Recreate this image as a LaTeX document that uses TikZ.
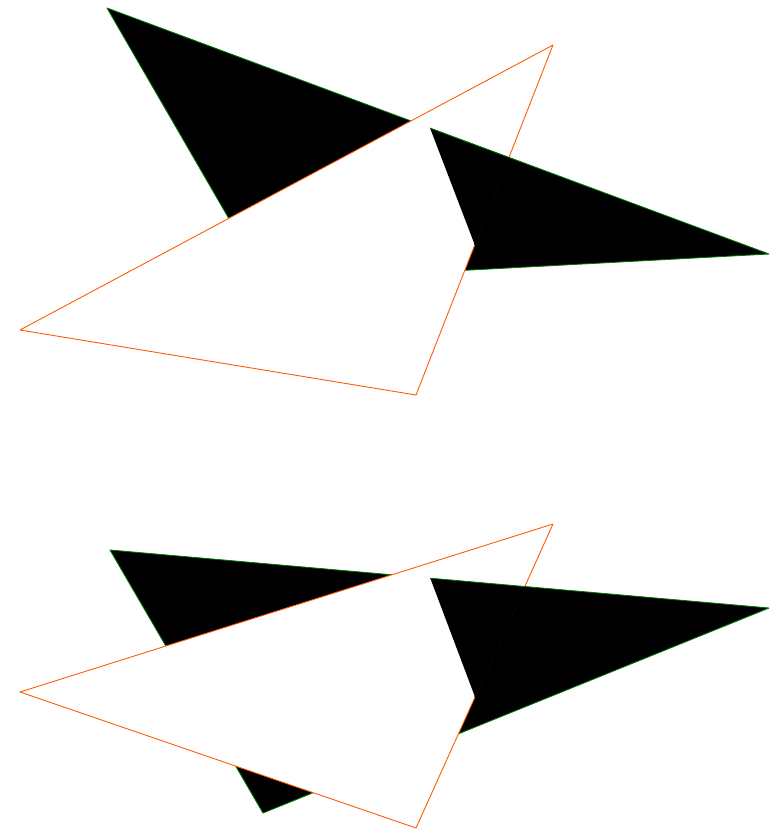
\documentclass[tikz,border=0pt]{standalone}
\usetikzlibrary{calc}
\begin{document}
\begin{tikzpicture}[x=0.02cm, y=-0.02cm,
		dark/.style={fill=black, draw=green!45!black, line width=0.5pt, line join=round},
		pale/.style={fill=white, draw=orange!70!red, line width=0.5pt, line join=round}]
		
		% ==========================================
		% FRAME
		% ==========================================
		\useasboundingbox (0,0) rectangle (781,833);
		
		% ==========================================
		% UPPER PAIR
		% ==========================================
		\coordinate (ta) at (107,8);
		\coordinate (tb) at (769,254);
		\coordinate (tc) at (265,281);
		\coordinate (ua) at (20,330);
		\coordinate (ub) at (553,45);
		\coordinate (uc) at (416,395);
		
		\filldraw[dark] (ta) -- (tb) -- (tc) -- cycle;
		\filldraw[pale] (ua) -- (ub) -- (uc) -- cycle;
		
		% the dark triangle pierces the pale one here
		\coordinate (tp) at ($(ta)!0.488!(tb)$);
		\coordinate (tq) at (intersection of ta--tb and ub--uc);
		\coordinate (tr) at ($(ub)!0.571!(uc)$);
		\fill[black] (tp) -- (tq) -- (tr) -- cycle;
		\draw[black, line width=0.8pt] (tq) -- (tr);
		\draw[green!45!black, line width=0.5pt] (tp) -- (tq);
		
		% ==========================================
		% LOWER PAIR
		% ==========================================
		\coordinate (ba) at (110,550);
		\coordinate (bb) at (769,608);
		\coordinate (bc) at (263,813);
		\coordinate (va) at (20,692);
		\coordinate (vb) at (553,524);
		\coordinate (vc) at (416,828);
		
		\filldraw[dark] (ba) -- (bb) -- (bc) -- cycle;
		\filldraw[pale] (va) -- (vb) -- (vc) -- cycle;
		
		\coordinate (bp) at ($(ba)!0.486!(bb)$);
		\coordinate (bq) at (intersection of ba--bb and vb--vc);
		\coordinate (br) at ($(vb)!0.569!(vc)$);
		\fill[black] (bp) -- (bq) -- (br) -- cycle;
		\draw[black, line width=0.8pt] (bq) -- (br);
		\draw[green!45!black, line width=0.5pt] (bp) -- (bq);
		
	\end{tikzpicture}
\end{document}
